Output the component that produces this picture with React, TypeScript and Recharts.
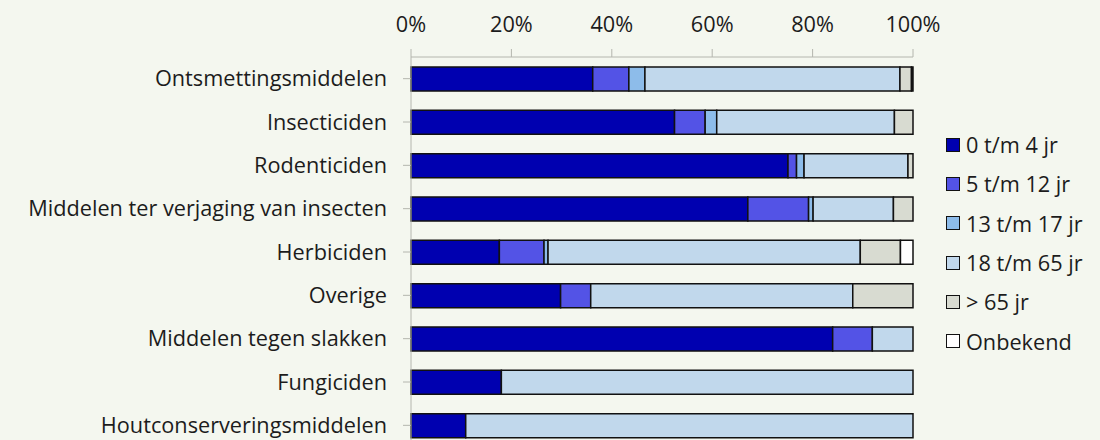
import { BarChart, Bar, XAxis, YAxis, Legend } from "recharts";

const categories = [
  "Ontsmettingsmiddelen",
  "Insecticiden",
  "Rodenticiden",
  "Middelen ter verjaging van insecten",
  "Herbiciden",
  "Overige",
  "Middelen tegen slakken",
  "Fungiciden",
  "Houtconserveringsmiddelen",
];

// percentages per age group
const age0to4 = [36.2, 52.5, 75.1, 67.1, 17.6, 29.8, 84.0, 18.0, 10.9];
const age5to12 = [7.2, 6.1, 1.7, 12.1, 8.9, 6.0, 7.9, 0, 0];
const age13to17 = [3.2, 2.3, 1.5, 0.9, 0.8, 0, 0, 0, 0];
const age18to65 = [50.8, 35.4, 20.7, 16.0, 62.2, 52.2, 8.1, 82.0, 89.1];
const age65plus = [2.3, 3.7, 1.0, 3.9, 8.0, 12.0, 0, 0, 0];
const unknown = [0.3, 0, 0, 0, 2.5, 0, 0, 0, 0];

const xTicks = [0, 20, 40, 60, 80, 100];

const series = [
  { key: "a", name: "0 t/m 4 jr", values: age0to4, color: "#0000b0" },
  { key: "b", name: "5 t/m 12 jr", values: age5to12, color: "#5353e6" },
  { key: "c", name: "13 t/m 17 jr", values: age13to17, color: "#8dbcea" },
  { key: "d", name: "18 t/m 65 jr", values: age18to65, color: "#c1d8ec" },
  { key: "e", name: "> 65 jr", values: age65plus, color: "#d8dbd1" },
  { key: "f", name: "Onbekend", values: unknown, color: "#ffffff" },
];

const data = categories.map((name, i) => {
  const row: Record<string, string | number> = { name };
  series.forEach((s) => (row[s.key] = s.values[i]));
  return row;
});

const FONT = "'Open Sans', sans-serif";
const FONT_SIZE = 21.7;
const TEXT = "#1c1c1c";
const AXIS = "#b4b6ae";

// legend drawn in series order (recharts would sort the names otherwise)
function LegendBox() {
  return (
    <div style={{ width: 160, fontFamily: FONT, fontSize: FONT_SIZE, color: TEXT }}>
      {series.map((s) => (
        <div key={s.key} style={{ display: "flex", alignItems: "center", height: 39.3 }}>
          <span
            style={{
              width: 12,
              height: 12,
              marginRight: 6,
              background: s.color,
              border: "1.5px solid #111",
              flexShrink: 0,
            }}
          />
          <span>{s.name}</span>
        </div>
      ))}
    </div>
  );
}

export default function App() {
  return (
    <div style={{ position: "absolute", left: 0, top: 0, width: 1100, height: 440, overflow: "hidden", background: "#f4f7ef" }}>
      <BarChart
        width={1100}
        height={470}
        data={data}
        layout="vertical"
        barSize={24}
        margin={{ top: 27, right: 27, bottom: 23, left: 0 }}
      >
        <XAxis
          type="number"
          orientation="top"
          domain={[0, 100]}
          ticks={xTicks}
          tickFormatter={(v) => `${v}%`}
          stroke={AXIS}
          tickSize={8}
          tick={{ fill: TEXT, fontSize: FONT_SIZE, fontFamily: FONT }}
          tickMargin={17}
          interval={0}
        />
        <YAxis
          type="category"
          dataKey="name"
          width={411}
          stroke={AXIS}
          tickSize={8}
          tickMargin={16}
          interval={0}
          tick={{ fill: TEXT, fontSize: FONT_SIZE, fontFamily: FONT }}
        />
        <Legend
          layout="vertical"
          align="right"
          verticalAlign="top"
          wrapperStyle={{ left: 946, top: 125, right: "auto" }}
          content={<LegendBox />}
        />
        {series.map((s) => (
          <Bar
            key={s.key}
            dataKey={s.key}
            name={s.name}
            stackId="age"
            fill={s.color}
            stroke="#111"
            strokeWidth={1.5}
            isAnimationActive={false}
          />
        ))}
      </BarChart>
    </div>
  );
}
